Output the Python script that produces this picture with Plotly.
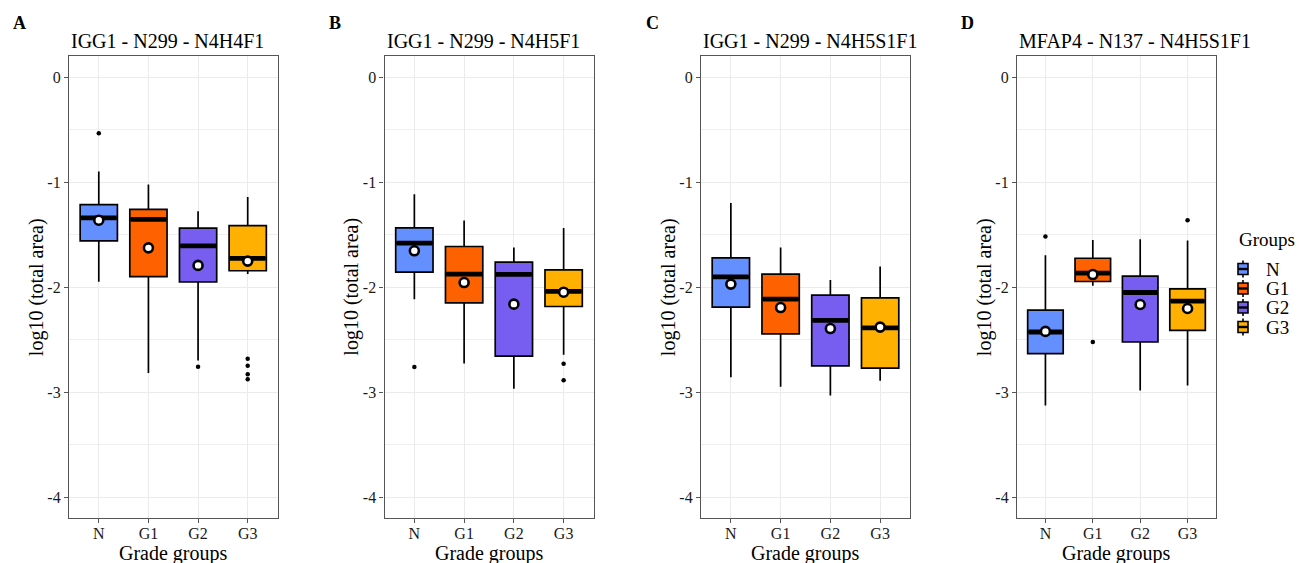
import plotly.graph_objects as go

W, H = 1300, 563

groups = ["N", "G1", "G2", "G3"]
colors = ["#648FFF", "#FE6100", "#785EF0", "#FFB000"]
letters = ["A", "B", "C", "D"]
titles = ["IGG1 - N299 - N4H4F1", "IGG1 - N299 - N4H5F1",
          "IGG1 - N299 - N4H5S1F1", "MFAP4 - N137 - N4H5S1F1"]
y_ticks = [0, -1, -2, -3, -4]

# per panel (A, B, C, D), per group (N, G1, G2, G3)
q1 = [[-1.559, -1.900, -1.951, -1.844],
      [-1.857, -2.149, -2.657, -2.184],
      [-2.190, -2.444, -2.749, -2.771],
      [-2.633, -1.946, -2.522, -2.411]]
median = [[-1.341, -1.354, -1.607, -1.727],
          [-1.581, -1.876, -1.879, -2.041],
          [-1.902, -2.114, -2.317, -2.387],
          [-2.427, -1.867, -2.051, -2.133]]
q3 = [[-1.215, -1.259, -1.439, -1.414],
      [-1.435, -1.613, -1.762, -1.835],
      [-1.721, -1.876, -2.076, -2.102],
      [-2.218, -1.725, -1.896, -2.016]]
lower = [[-1.948, -2.817, -2.697, -1.875],
         [-2.114, -2.727, -2.968, -2.644],
         [-2.857, -2.949, -3.032, -2.892],
         [-3.127, -1.987, -2.984, -2.937]]
upper = [[-0.900, -1.022, -1.278, -1.142],
         [-1.117, -1.365, -1.622, -1.438],
         [-1.200, -1.622, -1.933, -1.803],
         [-1.696, -1.551, -1.544, -1.557]]
mean = [[-1.363, -1.626, -1.793, -1.752],
        [-1.654, -1.956, -2.162, -2.048],
        [-1.971, -2.194, -2.394, -2.380],
        [-2.421, -1.880, -2.165, -2.203]]
outliers = [[[-0.536], [], [-2.757], [-2.681, -2.747, -2.829, -2.877]],
            [[-2.759], [], [], [-2.730, -2.886]],
            [[], [], [], []],
            [[-1.519], [-2.522], [], [-1.364]]]

# layout (pixels)
panel_left = [69, 384.5, 701, 1017]
panel_right = [277.5, 593.5, 910, 1216]
panel_top, panel_bottom = 56, 518.3
letter_x = [11, 327, 644, 959]
legend_x, legend_title_y = 1238, 240
legend_rows_y = [269, 288.5, 307.5, 327]

FONT = "Liberation Serif"
BOX_W = 0.75
XR = [0.4, 4.6]


def px(x):
    return x / W


def py(y):
    return 1 - y / H


fig = go.Figure()
layout = dict(
    width=W, height=H, margin=dict(l=0, r=0, t=0, b=0),
    paper_bgcolor="white", plot_bgcolor="white",
    font=dict(family=FONT, color="black"),
    showlegend=False,
)
annotations = []
shapes = []

for p in range(4):
    ax = "" if p == 0 else str(p + 1)
    xa, ya = "x" + ax, "y" + ax
    dom_x = [px(panel_left[p]), px(panel_right[p])]
    dom_y = [py(panel_bottom), py(panel_top)]
    px_per_unit = (panel_right[p] - panel_left[p]) / (XR[1] - XR[0])
    for g in range(4):
        xpos = g + 1
        fig.add_trace(go.Box(
            x=[xpos], q1=[q1[p][g]], median=[median[p][g]], q3=[q3[p][g]],
            lowerfence=[lower[p][g]], upperfence=[upper[p][g]],
            width=BOX_W, fillcolor=colors[g],
            line=dict(color="black", width=1.7), whiskerwidth=0,
            boxpoints=False, name=groups[g], legendgroup=groups[g],
            xaxis=xa, yaxis=ya, hoverinfo="skip"))
        # thick median bar (line-ew symbol length is 1.4 x size)
        fig.add_trace(go.Scatter(
            x=[xpos], y=[median[p][g]], mode="markers",
            marker=dict(symbol="line-ew", size=(BOX_W * px_per_unit - 1.5) / 1.4,
                        line=dict(width=4.8, color="black")),
            xaxis=xa, yaxis=ya, hoverinfo="skip"))
        if outliers[p][g]:
            fig.add_trace(go.Scatter(
                x=[xpos] * len(outliers[p][g]), y=outliers[p][g], mode="markers",
                marker=dict(symbol="circle", size=4.5, color="black"),
                xaxis=xa, yaxis=ya, hoverinfo="skip"))
        fig.add_trace(go.Scatter(
            x=[xpos], y=[mean[p][g]], mode="markers",
            marker=dict(symbol="circle", size=9, color="white",
                        line=dict(width=2.6, color="black")),
            xaxis=xa, yaxis=ya, hoverinfo="skip"))

    layout["xaxis" + ax] = dict(
        domain=dom_x, anchor=ya, range=XR, tickmode="array",
        tickvals=[1, 2, 3, 4], ticktext=groups,
        showgrid=True, gridcolor="#EBEBEB", gridwidth=1.1, zeroline=False,
        showline=True, mirror=True, linecolor="#555555", linewidth=1.3,
        ticks="outside", ticklen=4, tickcolor="#555555", tickwidth=1,
        ticklabelstandoff=-4,
        tickfont=dict(size=16, family=FONT, color="#1A1A1A"))
    layout["yaxis" + ax] = dict(
        domain=dom_y, anchor=xa, range=[-4.2, 0.2], tickmode="array",
        tickvals=y_ticks, ticktext=[str(v) for v in y_ticks],
        showgrid=True, gridcolor="#EBEBEB", gridwidth=1.1, zeroline=False,
        minor=dict(dtick=0.5, tick0=0, showgrid=True, gridcolor="#EFEFEF",
                   gridwidth=0.7, ticks=""),
        showline=True, mirror=True, linecolor="#555555", linewidth=1.3,
        ticks="outside", ticklen=4, tickcolor="#555555", tickwidth=1,
        tickfont=dict(size=16, family=FONT, color="#1A1A1A"))

    annotations.append(dict(
        text=titles[p], x=px(panel_left[p]), y=py(41), xref="paper", yref="paper",
        xanchor="left", yanchor="middle", showarrow=False,
        font=dict(size=20, family=FONT, color="black")))
    annotations.append(dict(
        text="<b>" + letters[p] + "</b>", x=px(letter_x[p]), y=py(23),
        xref="paper", yref="paper", xanchor="left", yanchor="middle",
        showarrow=False, font=dict(size=18, family=FONT, color="black")))
    annotations.append(dict(
        text="Grade groups", x=px((panel_left[p] + panel_right[p]) / 2),
        y=py(553), xref="paper", yref="paper", xanchor="center",
        yanchor="middle", showarrow=False,
        font=dict(size=20, family=FONT, color="black")))
    annotations.append(dict(
        text="log10 (total area)", x=px(panel_left[p] - 33),
        y=py((panel_top + panel_bottom) / 2), xref="paper", yref="paper",
        xanchor="center", yanchor="middle", textangle=-90, showarrow=False,
        font=dict(size=20, family=FONT, color="black")))

# legend ("Groups") built from key glyphs + labels
annotations.append(dict(
    text="Groups", x=px(legend_x - 1), y=py(legend_title_y), xref="paper",
    yref="paper", xanchor="left", yanchor="middle", showarrow=False,
    font=dict(size=19, family=FONT, color="black")))
for g in range(4):
    cy = legend_rows_y[g]
    cx = legend_x + 5
    shapes.append(dict(type="line", xref="paper", yref="paper",
                       x0=px(cx), x1=px(cx), y0=py(cy - 8.5), y1=py(cy + 8.5),
                       line=dict(color="black", width=1.6)))
    shapes.append(dict(type="rect", xref="paper", yref="paper",
                       x0=px(legend_x), x1=px(legend_x + 10),
                       y0=py(cy - 5.5), y1=py(cy + 5.5),
                       fillcolor=colors[g], line=dict(color="black", width=1.6)))
    shapes.append(dict(type="line", xref="paper", yref="paper",
                       x0=px(legend_x), x1=px(legend_x + 10), y0=py(cy), y1=py(cy),
                       line=dict(color="black", width=2.4)))
    annotations.append(dict(
        text=groups[g], x=px(legend_x + 26), y=py(cy), xref="paper", yref="paper",
        xanchor="left", yanchor="middle", showarrow=False,
        font=dict(size=19, family=FONT, color="black")))

layout["annotations"] = annotations
layout["shapes"] = shapes
fig.update_layout(**layout)
fig.write_html("out.html", config={"displayModeBar": False},
               post_script="document.body.style.margin='0px';document.body.style.padding='0px';")
